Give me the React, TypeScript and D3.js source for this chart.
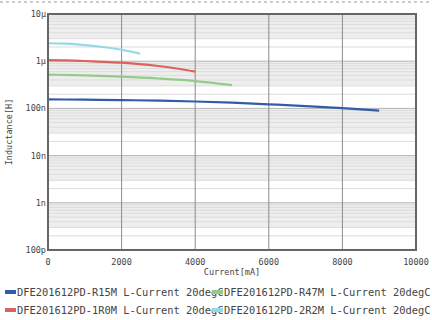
import React from "react";
import * as d3 from "d3";

const seriesNames = [
  "DFE201612PD-R15M L-Current 20degC",
  "DFE201612PD-R47M L-Current 20degC",
  "DFE201612PD-1R0M L-Current 20degC",
  "DFE201612PD-2R2M L-Current 20degC",
];
const seriesColors = ["#325da6", "#93cc88", "#dc625e", "#95d8e6"];

// current in mA, inductance in H
const r15mCurrent = [0, 1000, 2000, 3000, 4000, 5000, 6000, 7000, 8000, 9000];
const r15mL = [155e-9, 153e-9, 150e-9, 146e-9, 140e-9, 132e-9, 122e-9, 112e-9, 101e-9, 90e-9];
const r47mCurrent = [0, 1000, 2000, 3000, 4000, 5000];
const r47mL = [0.52e-6, 0.5e-6, 0.47e-6, 0.43e-6, 0.38e-6, 0.31e-6];
const r1r0mCurrent = [0, 500, 1000, 1500, 2000, 2500, 3000, 3500, 4000];
const r1r0mL = [1.05e-6, 1.04e-6, 1.01e-6, 0.97e-6, 0.93e-6, 0.87e-6, 0.79e-6, 0.7e-6, 0.6e-6];
const r2r2mCurrent = [0, 500, 1000, 1500, 2000, 2500];
const r2r2mL = [2.4e-6, 2.35e-6, 2.2e-6, 2.0e-6, 1.75e-6, 1.45e-6];

const xTicks = [0, 2000, 4000, 6000, 8000, 10000];
const yTicks = [1e-5, 1e-6, 1e-7, 1e-8, 1e-9, 1e-10];
const yTickLabels = ["10μ", "1μ", "100n", "10n", "1n", "100p"];

const W = 432;
const H = 320;
const left = 48;
const right = 416;
const top = 14;
const bottom = 250;

export default function App() {
  const x = d3.scaleLinear().domain([0, 10000]).range([left, right]);
  const y = d3.scaleLog().domain([1e-10, 1e-5]).range([bottom, top]);
  const line = d3
    .line<[number, number]>()
    .x((d) => x(d[0]))
    .y((d) => y(d[1]))
    .curve(d3.curveMonotoneX);

  const series = [
    { c: r15mCurrent, l: r15mL, color: seriesColors[0] },
    { c: r47mCurrent, l: r47mL, color: seriesColors[1] },
    { c: r1r0mCurrent, l: r1r0mL, color: seriesColors[2] },
    { c: r2r2mCurrent, l: r2r2mL, color: seriesColors[3] },
  ];

  const minor: number[] = [];
  const bands: [number, number][] = [];
  for (let e = -10; e < -5; e++) {
    for (let m = 2; m <= 9; m++) minor.push(m * Math.pow(10, e));
    bands.push([Math.pow(10, e + 1), 3 * Math.pow(10, e)]);
  }

  const font = "'DejaVu Sans Mono', monospace";

  return (
    <svg
      width={W}
      height={H}
      style={{ position: "fixed", left: 0, top: 0, background: "#fff" }}
      fontFamily={font}
    >
      <line x1={0} x2={W} y1={2} y2={2} stroke="#999" strokeDasharray="3,3" />
      <rect x={left} y={top} width={right - left} height={bottom - top} fill="#fff" />
      {bands.map((b, i) => (
        <rect
          key={"b" + i}
          x={left}
          width={right - left}
          y={y(b[0])}
          height={y(b[1]) - y(b[0])}
          fill="#eeeeee"
        />
      ))}
      {minor.map((v, i) => (
        <line key={"m" + i} x1={left} x2={right} y1={y(v)} y2={y(v)} stroke="#dcdcdc" strokeWidth={1} />
      ))}
      {yTicks.map((v, i) => (
        <line key={"M" + i} x1={left} x2={right} y1={y(v)} y2={y(v)} stroke="#b4b4b4" strokeWidth={1} />
      ))}
      {xTicks.map((v, i) => (
        <line key={"v" + i} x1={x(v)} x2={x(v)} y1={top} y2={bottom} stroke="#8a8a8a" strokeWidth={1} />
      ))}
      {series.map((s, i) => (
        <path
          key={"s" + i}
          d={line(s.c.map((c, j) => [c, s.l[j]] as [number, number])) || ""}
          fill="none"
          stroke={s.color}
          strokeWidth={2.2}
        />
      ))}
      <rect x={left} y={top} width={right - left} height={bottom - top} fill="none" stroke="#666" strokeWidth={2} />
      {yTicks.map((v, i) => (
        <text key={"yl" + i} x={left - 2} y={y(v) + 3} fontSize={8.5} textAnchor="end" fill="#444">
          {yTickLabels[i]}
        </text>
      ))}
      {xTicks.map((v, i) => (
        <text key={"xl" + i} x={x(v)} y={265} fontSize={8.5} textAnchor="middle" fill="#444">
          {v}
        </text>
      ))}
      <text x={(left + right) / 2} y={275} fontSize={8.5} textAnchor="middle" fill="#444">
        Current[mA]
      </text>
      <text
        transform={`translate(12,${(top + bottom) / 2}) rotate(-90)`}
        fontSize={8.5}
        textAnchor="middle"
        fill="#444"
      >
        Inductance[H]
      </text>
      {seriesNames.map((n, i) => {
        const col = i % 2;
        const row = Math.floor(i / 2);
        const lx = 5 + col * 207;
        const ly = 296 + row * 18;
        return (
          <g key={"lg" + i}>
            <rect x={lx} y={ly - 6} width={11} height={4} fill={seriesColors[i]} />
            <text x={lx + 12} y={ly} fontSize={10.4} fill="#444">
              {n}
            </text>
          </g>
        );
      })}
    </svg>
  );
}
